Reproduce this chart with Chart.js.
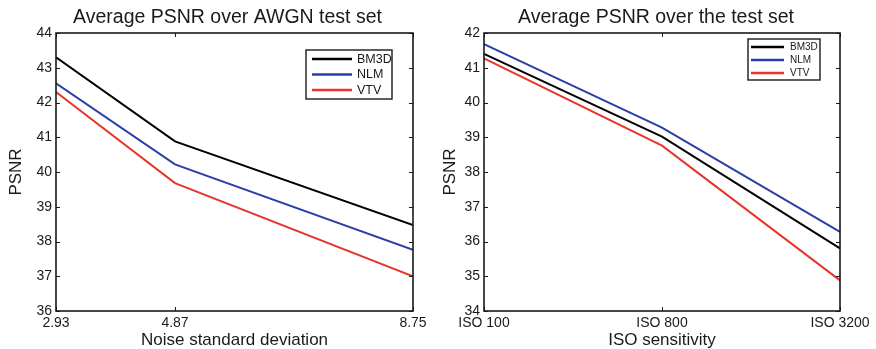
<!DOCTYPE html>
<html>
<head>
<meta charset="utf-8">
<script src="https://cdn.jsdelivr.net/npm/chart.js@4"></script>
<style>
    html, body { margin: 0; padding: 0; background: #fff; }
    #wrap { position: relative; width: 876px; height: 349px; overflow: hidden; background: #fff; }
    canvas { position: absolute; top: 0; }
    #awgnChart { left: 0; }
    #isoChart { left: 436px; }
</style>
</head>
<body>
<div id="wrap">
    <canvas id="isoChart" width="440" height="349"></canvas>
    <canvas id="awgnChart" width="455" height="349"></canvas>
</div>
<script>
// Data - left panel (AWGN)
const noiseLevels = [2.93, 4.87, 8.75];
const awgnBM3D = [43.30, 40.88, 38.47];
const awgnNLM = [42.55, 40.22, 37.76];
const awgnVTV = [42.30, 39.68, 37.00];

// Data - right panel (ISO)
const isoLabels = ['ISO 100', 'ISO 800', 'ISO 3200'];
const isoBM3D = [41.40, 39.02, 35.80];
const isoNLM = [41.68, 39.28, 36.28];
const isoVTV = [41.27, 38.76, 34.88];

const seriesNames = ['BM3D', 'NLM', 'VTV'];
const seriesColors = ['#000000', '#2a3ea6', '#e8352b'];

Chart.defaults.font.family = "'Liberation Sans', Arial, Helvetica, sans-serif";
Chart.defaults.color = '#1a1a1a';

const TICK = 4;

// Matlab-style box with inward ticks on all four sides
const frameTicks = {
    id: 'frameTicks',
    afterDatasetsDraw(chart) {
        const { ctx, chartArea: a, scales } = chart;
        ctx.save();
        ctx.strokeStyle = '#1a1a1a';
        ctx.lineWidth = 1;
        ctx.beginPath();
        scales.x.ticks.forEach((t, i) => {
            const px = Math.round(scales.x.getPixelForTick(i)) + 0.5;
            ctx.moveTo(px, a.bottom); ctx.lineTo(px, a.bottom - TICK);
            ctx.moveTo(px, a.top); ctx.lineTo(px, a.top + TICK);
        });
        scales.y.ticks.forEach((t, i) => {
            const py = Math.round(scales.y.getPixelForTick(i)) + 0.5;
            ctx.moveTo(a.left, py); ctx.lineTo(a.left + TICK, py);
            ctx.moveTo(a.right, py); ctx.lineTo(a.right - TICK, py);
        });
        ctx.stroke();
        ctx.lineWidth = 1.6;
        ctx.strokeRect(a.left, a.top, a.right - a.left, a.bottom - a.top);
        ctx.restore();
    }
};

// Boxed legend in the upper right of the plot area
const boxLegend = {
    id: 'boxLegend',
    afterDraw(chart, args, o) {
        const { ctx, chartArea: a } = chart;
        const x0 = a.right - o.right - o.width;
        const y0 = a.top + o.top;
        ctx.save();
        ctx.fillStyle = '#fff';
        ctx.fillRect(x0, y0, o.width, o.height);
        ctx.strokeStyle = '#1a1a1a';
        ctx.lineWidth = 1.4;
        ctx.strokeRect(x0, y0, o.width, o.height);
        ctx.font = o.fontSize + "px 'Liberation Sans', Arial, sans-serif";
        ctx.textBaseline = 'middle';
        ctx.textAlign = 'left';
        chart.data.datasets.forEach((ds, i) => {
            const y = y0 + o.first + i * o.step;
            ctx.strokeStyle = ds.borderColor;
            ctx.lineWidth = 2.4;
            ctx.beginPath();
            ctx.moveTo(x0 + o.lineStart, y);
            ctx.lineTo(x0 + o.lineStart + o.lineLen, y);
            ctx.stroke();
            ctx.fillStyle = '#1a1a1a';
            ctx.fillText(ds.label, x0 + o.textStart, y + 0.5);
        });
        ctx.restore();
    }
};

function makeDatasets(values, xs) {
    return values.map((vals, i) => ({
        label: seriesNames[i],
        data: xs ? vals.map((v, j) => ({ x: xs[j], y: v })) : vals,
        borderColor: seriesColors[i],
        backgroundColor: seriesColors[i],
        borderWidth: 2,
        pointRadius: 0,
        tension: 0,
        fill: false
    }));
}

function yScale(min, max, width, titlePad) {
    return {
        min: min,
        max: max,
        ticks: { stepSize: 1, padding: 4, font: { size: 14 }, color: '#1a1a1a' },
        grid: { display: false, drawTicks: false },
        border: { display: false },
        title: { display: true, text: 'PSNR', font: { size: 17 }, padding: { top: titlePad, bottom: 0 }, color: '#1a1a1a' },
        afterFit(scale) { scale.width = width; }
    };
}

// Empty right-hand spacer so the title stays centred on the whole canvas
function spacerScale(width) {
    return {
        position: 'right',
        min: 0,
        max: 1,
        ticks: { display: false },
        grid: { display: false, drawTicks: false },
        border: { display: false },
        afterFit(scale) { scale.width = width; }
    };
}

function xTitle(text) {
    return { display: true, text: text, font: { size: 17, lineHeight: 1 }, padding: { top: 0, bottom: 0 }, color: '#1a1a1a' };
}

function chartTitle(text) {
    return { display: true, text: text, font: { size: 19.5, weight: 'normal', lineHeight: 1.2 }, color: '#1a1a1a', padding: { top: 6, bottom: 3.6 } };
}

// Left panel
new Chart(document.getElementById('awgnChart'), {
    type: 'line',
    data: { datasets: makeDatasets([awgnBM3D, awgnNLM, awgnVTV], noiseLevels) },
    options: {
        responsive: false,
        animation: false,
        layout: { padding: 0 },
        plugins: {
            legend: { display: false },
            tooltip: { enabled: false },
            title: chartTitle('Average PSNR over AWGN test set'),
            boxLegend: { right: 21, top: 17, width: 86, height: 49, first: 9, step: 15.5, lineStart: 6, lineLen: 40, textStart: 51, fontSize: 12.5 }
        },
        scales: {
            x: {
                type: 'linear',
                min: noiseLevels[0],
                max: noiseLevels[noiseLevels.length - 1],
                afterBuildTicks(scale) { scale.ticks = noiseLevels.map(v => ({ value: v })); },
                ticks: { padding: 4, font: { size: 14 }, color: '#1a1a1a', maxRotation: 0, callback: v => v.toFixed(2) },
                grid: { display: false, drawTicks: false },
                border: { display: false },
                title: xTitle('Noise standard deviation'),
                afterFit(scale) { scale.height = 38; }
            },
            y: yScale(36, 44, 56, 6),
            spacer: spacerScale(42)
        }
    },
    plugins: [frameTicks, boxLegend]
});

// Right panel
new Chart(document.getElementById('isoChart'), {
    type: 'line',
    data: { labels: isoLabels, datasets: makeDatasets([isoBM3D, isoNLM, isoVTV]) },
    options: {
        responsive: false,
        animation: false,
        layout: { padding: 0 },
        plugins: {
            legend: { display: false },
            tooltip: { enabled: false },
            title: chartTitle('Average PSNR over the test set'),
            boxLegend: { right: 20, top: 6, width: 72, height: 41, first: 8, step: 13, lineStart: 3, lineLen: 33, textStart: 42, fontSize: 10 }
        },
        scales: {
            x: {
                type: 'category',
                offset: false,
                ticks: { padding: 4, font: { size: 14 }, color: '#1a1a1a', maxRotation: 0, autoSkip: false },
                grid: { display: false, drawTicks: false },
                border: { display: false },
                title: xTitle('ISO sensitivity'),
                afterFit(scale) { scale.height = 38; }
            },
            y: yScale(34, 42, 48, 4),
            spacer: spacerScale(36)
        }
    },
    plugins: [frameTicks, boxLegend]
});
</script>
</body>
</html>
